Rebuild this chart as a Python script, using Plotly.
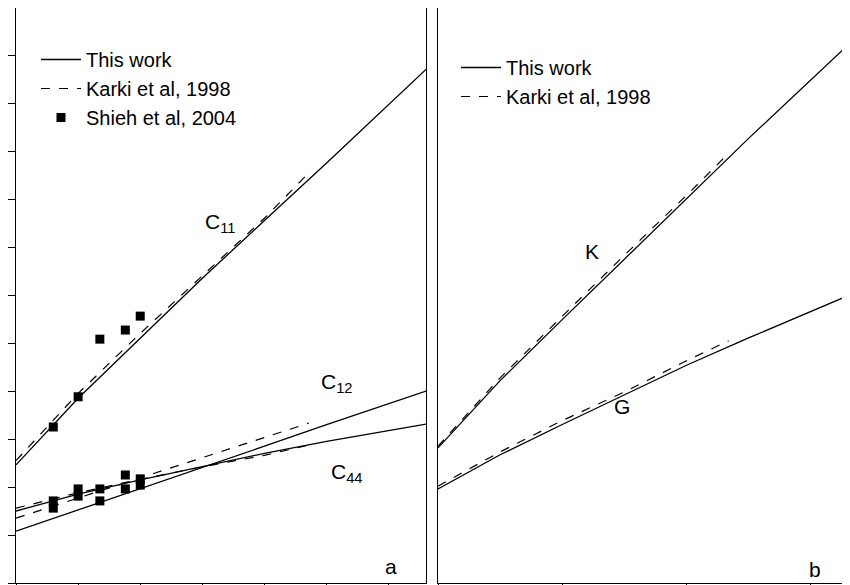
import plotly.graph_objects as go
from plotly.subplots import make_subplots

# pressure (arbitrary units, panel a)
p_work = [0, 1, 2, 3, 4, 5, 6.6]
c11_work = [2.46, 3.85, 5.1, 6.35, 7.55, 8.75, 10.7]
c12_work = [1.08, 1.52, 1.97, 2.41, 2.85, 3.3, 4.0]
c44_work = [1.5, 1.85, 2.15, 2.43, 2.7, 2.95, 3.31]

p_karki = [0, 1, 2, 3, 4, 4.71]
c11_karki = [2.55, 3.95, 5.2, 6.4, 7.6, 8.54]
c12_karki = [1.35, 1.77, 2.19, 2.61, 3.03, 3.33]
c44_karki = [1.56, 1.88, 2.16, 2.42, 2.66, 2.87]

p_shieh = [0.6, 1.0, 1.35, 1.76, 2.0,
           0.6, 0.6, 1.0, 1.0, 1.35, 1.35, 1.76, 1.76, 2.0, 2.0]
c_shieh = [3.25, 3.88, 5.08, 5.27, 5.56,
           1.71, 1.56, 1.96, 1.81, 1.96, 1.71, 2.25, 1.96, 2.17, 2.04]

# panel b
kg_p = [0, 1, 2, 3, 4, 5, 6.6]
k_work = [2.37, 3.55, 4.62, 5.68, 6.75, 7.8, 9.44]
g_work = [1.65, 2.25, 2.78, 3.3, 3.82, 4.3, 5.04]
kg_p_karki = [0, 1, 2, 3, 4, 4.68]
k_karki = [2.4, 3.6, 4.68, 5.75, 6.8, 7.54]
g_karki = [1.7, 2.3, 2.85, 3.35, 3.9, 4.25]

fig = make_subplots(rows=1, cols=2)
solid = dict(color="black", width=1.3)
dash = dict(color="black", width=1.2, dash="dash")

fig.add_trace(go.Scatter(x=p_work, y=c11_work, mode="lines", line=solid, name="This work", legend="legend"), 1, 1)
fig.add_trace(go.Scatter(x=p_karki, y=c11_karki, mode="lines", line=dash, name="Karki et al, 1998", legend="legend"), 1, 1)
fig.add_trace(go.Scatter(x=p_shieh, y=c_shieh, mode="markers", marker=dict(symbol="square", size=9, color="black"),
                         name="Shieh et al, 2004", legend="legend"), 1, 1)
for y in (c12_work, c44_work):
    fig.add_trace(go.Scatter(x=p_work, y=y, mode="lines", line=solid, showlegend=False), 1, 1)
for y in (c12_karki, c44_karki):
    fig.add_trace(go.Scatter(x=p_karki, y=y, mode="lines", line=dash, showlegend=False), 1, 1)

fig.add_trace(go.Scatter(x=kg_p, y=k_work, mode="lines", line=solid, name="This work", legend="legend2"), 1, 2)
fig.add_trace(go.Scatter(x=kg_p_karki, y=k_karki, mode="lines", line=dash, name="Karki et al, 1998", legend="legend2"), 1, 2)
fig.add_trace(go.Scatter(x=kg_p, y=g_work, mode="lines", line=solid, showlegend=False), 1, 2)
fig.add_trace(go.Scatter(x=kg_p_karki, y=g_karki, mode="lines", line=dash, showlegend=False), 1, 2)

ax = dict(showgrid=False, zeroline=False, showline=True, mirror=True, linecolor="black", linewidth=1.3,
          ticks="outside", ticklen=8, tickcolor="black", showticklabels=False)
fig.update_xaxes(**ax, range=[0, 6.6], dtick=1)
fig.update_xaxes(domain=[8/850, 418/850], row=1, col=1)
fig.update_xaxes(domain=[430/850, 840/850], dtick=2, row=1, col=2)
fig.update_yaxes(**ax, domain=[10/585, 1])
fig.update_yaxes(range=[0, 575/48], dtick=1, row=1, col=1)
fig.update_yaxes(range=[0, 575/57], dtick=1, side="right", row=1, col=2)

lab = dict(showarrow=False, font=dict(size=21, color="black"))
ann = [
    dict(x=(212-8)/62, y=(575-215)/48, text="C<sub>11</sub>", xref="x", yref="y", **lab),
    dict(x=(328-8)/62, y=(575-375)/48, text="C<sub>12</sub>", xref="x", yref="y", **lab),
    dict(x=(338-8)/62, y=(575-465)/48, text="C<sub>44</sub>", xref="x", yref="y", **lab),
    dict(x=(382-8)/62, y=(575-558)/48, text="a", xref="x", yref="y", **lab),
    dict(x=(584-430)/62, y=(575-243)/57, text="K", xref="x2", yref="y2", **lab),
    dict(x=(614-430)/62, y=(575-398)/57, text="G", xref="x2", yref="y2", **lab),
    dict(x=(806-430)/62, y=(575-561)/57, text="b", xref="x2", yref="y2", **lab),
]
legfont = dict(family="Arial", size=20, color="black")
fig.update_layout(
    width=850, height=585, margin=dict(l=0, r=0, t=0, b=0),
    plot_bgcolor="white", paper_bgcolor="white", annotations=ann,
    font=dict(family="Arial"),
    legend=dict(x=28/850, y=1-32/585, xanchor="left", yanchor="top", font=legfont,
                bgcolor="rgba(0,0,0,0)", tracegroupgap=0, itemwidth=40),
    legend2=dict(x=448/850, y=1-40/585, xanchor="left", yanchor="top", font=legfont,
                 bgcolor="rgba(0,0,0,0)", itemwidth=40),
)
fig.write_html("out.html")
